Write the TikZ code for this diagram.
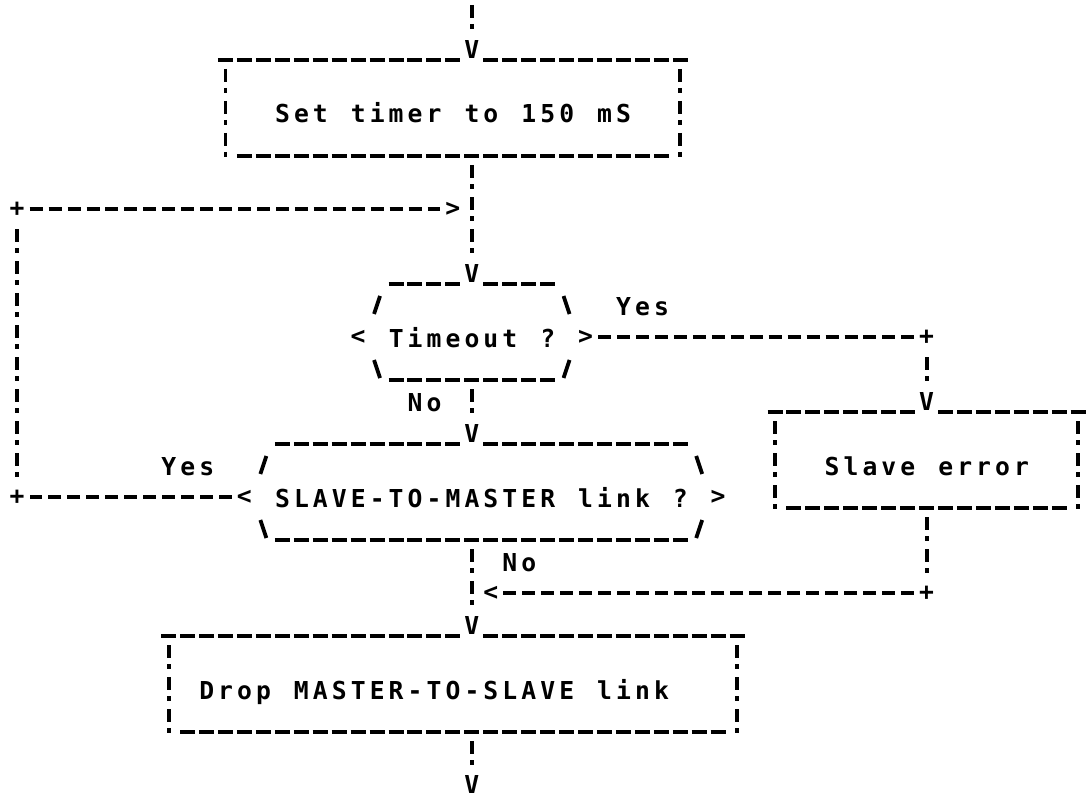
\documentclass[tikz,border=0pt]{standalone}
\usepackage{fontspec}
\newfontfamily\asciifont{DejaVu Sans Mono}
\ExplSyntaxOn
\NewDocumentCommand{\gridtxt}{m}{
  \str_map_inline:nn {#1} { \makebox[18.95pt][c]{##1} }
}
\ExplSyntaxOff
% grid: column centre x, row centre y (pixels)
\newcommand{\gx}[1]{17+(#1)*18.95}
\newcommand{\gy}[1]{49+((#1)-2)*32}
\tikzset{
  asc/.style={font=\asciifont\bfseries\fontsize{24.7pt}{26pt}\selectfont},
  ch/.style={asc, inner sep=0pt, minimum width=18.95pt, minimum height=32pt},
  txt/.style={asc, inner sep=0pt, anchor=base west},
  hdash/.style={line width=4pt, dash pattern=on 13pt off 5.95pt, shorten <=3pt, shorten >=3pt},
  vbar/.style={line width=3.8pt, dash pattern=on 13pt off 6pt on 5pt off 8pt, shorten <=4pt, shorten >=4pt},
  uline/.style={line width=4pt, dash pattern=on 15pt off 3.95pt},
  slash/.style={line width=3.8pt}
}
\newcommand{\uln}[3]{\draw[uline] ({\gx{#2}-7.5},{\gy{#1}+11}) -- ({\gx{#3}+7.5},{\gy{#1}+11});}
\newcommand{\vside}[3]{\draw[vbar] ({\gx{#1}},{\gy{#2}-16}) -- ({\gx{#1}},{\gy{#3}+16});}
\newcommand{\fsl}[2]{\draw[slash] ({\gx{#1}-3},{\gy{#2}+9}) -- ({\gx{#1}+3},{\gy{#2}-9});}
\newcommand{\bsl}[2]{\draw[slash] ({\gx{#1}-3},{\gy{#2}-9}) -- ({\gx{#1}+3},{\gy{#2}+9});}
\newcommand{\gtext}[4]{\node[txt] (#1) at ({\gx{#2}-9.475},{\gy{#3}+10}) {\gridtxt{#4}};}
\begin{document}
\begin{tikzpicture}[x=1pt,y=-1pt]
\useasboundingbox (0,0) rectangle (1087,797);
\fill[white] (0,0) rectangle (1087,797);

% entry
\coordinate (top) at ({\gx{24}},{\gy{1}-16});
\node[ch] (vA) at ({\gx{24}},{\gy{2}}) {V};
\draw[vbar] (top) -- (vA.north);

% box 1
\uln{2}{11}{23} \uln{2}{25}{35}
\vside{11}{3}{5} \vside{35}{3}{5}
\uln{5}{12}{34}
\gtext{t1}{14}{4}{Set timer to 150 mS}
\coordinate (b1s) at ({\gx{24}},{\gy{5}+16});
\node[ch] (vB) at ({\gx{24}},{\gy{9}}) {V};
\draw[vbar] (b1s) -- (vB.north);

% loop back
\node[ch] (pL7) at ({\gx{0}},{\gy{7}}) {+};
\node[ch] (gt7) at ({\gx{23}},{\gy{7}}) {>};
\draw[hdash] (pL7.east) -- (gt7.west);
\node[ch] (pL16) at ({\gx{0}},{\gy{16}}) {+};
\draw[vbar] (pL7.south) -- (pL16.north);

% decision 1
\uln{9}{20}{23} \uln{9}{25}{28}
\fsl{19}{10} \bsl{29}{10}
\node[ch] (h1l) at ({\gx{18}},{\gy{11}}) {<};
\gtext{t2}{20}{11}{Timeout ?}
\node[ch] (h1r) at ({\gx{30}},{\gy{11}}) {>};
\bsl{19}{12} \uln{12}{20}{28} \fsl{29}{12}
\gtext{yes1}{32}{10}{Yes}

% timeout -> slave error
\node[ch] (pR11) at ({\gx{48}},{\gy{11}}) {+};
\draw[hdash] (h1r.east) -- (pR11.west);
\node[ch] (vC) at ({\gx{48}},{\gy{13}}) {V};
\draw[vbar] (pR11.south) -- (vC.north);

% decision 1 -> decision 2
\coordinate (h1s) at ({\gx{24}},{\gy{12}+16});
\node[ch] (vD) at ({\gx{24}},{\gy{14}}) {V};
\draw[vbar] (h1s) -- (vD.north);
\gtext{no1}{21}{13}{No}

% slave error box
\uln{13}{40}{47} \uln{13}{49}{56}
\vside{40}{14}{16} \vside{56}{14}{16}
\gtext{t3}{43}{15}{Slave error}
\uln{16}{41}{55}

% decision 2
\uln{14}{14}{23} \uln{14}{25}{35}
\fsl{13}{15} \bsl{36}{15}
\gtext{yes2}{8}{15}{Yes}
\node[ch] (h2l) at ({\gx{12}},{\gy{16}}) {<};
\gtext{t4}{14}{16}{SLAVE-TO-MASTER link ?}
\node[ch] (h2r) at ({\gx{37}},{\gy{16}}) {>};
\bsl{13}{17} \uln{17}{14}{35} \fsl{36}{17}
\draw[hdash] (h2l.west) -- (pL16.east);

% decision 2 -> drop
\coordinate (h2s) at ({\gx{24}},{\gy{17}+16});
\node[ch] (vE) at ({\gx{24}},{\gy{20}}) {V};
\draw[vbar] (h2s) -- (vE.north);
\gtext{no2}{26}{18}{No}

% slave error -> join
\coordinate (b3s) at ({\gx{48}},{\gy{16}+16});
\node[ch] (pR19) at ({\gx{48}},{\gy{19}}) {+};
\draw[vbar] (b3s) -- (pR19.north);
\node[ch] (lt19) at ({\gx{25}},{\gy{19}}) {<};
\draw[hdash] (pR19.west) -- (lt19.east);

% drop box
\uln{20}{8}{23} \uln{20}{25}{38}
\vside{8}{21}{23} \vside{38}{21}{23}
\gtext{t5}{10}{22}{Drop MASTER-TO-SLAVE link}
\uln{23}{9}{37}
\coordinate (b5s) at ({\gx{24}},{\gy{23}+16});
\node[asc, inner sep=0pt] (vF) at ({\gx{24}},{\gy{25}-1}) {V};
\draw[vbar] (b5s) -- ([yshift=6pt]vF.north);
\end{tikzpicture}
\end{document}
